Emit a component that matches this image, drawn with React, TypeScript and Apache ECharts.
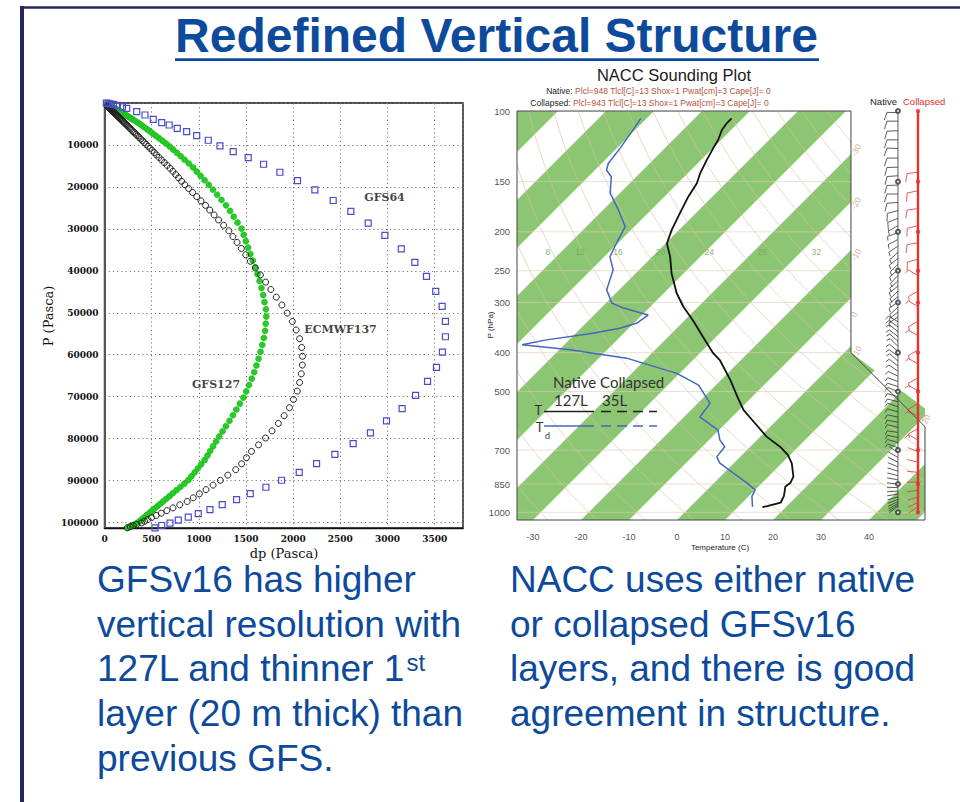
import { useEffect, useRef } from "react";
import * as echarts from "echarts";

// ---------------- Layer thickness dp (Pa) at each model level pressure P (Pa) ----------------
const gfs127Dp = [
  250, 272, 296, 322, 350, 372, 390, 411, 433, 455,
  480, 505, 532, 560, 590, 621, 654, 689, 725, 763,
  804, 847, 889, 921, 955, 989, 1024, 1061, 1091, 1120,
  1151, 1182, 1215, 1251, 1287, 1325, 1362, 1398, 1435, 1472,
  1502, 1531, 1561, 1587, 1610, 1633, 1654, 1672, 1689, 1702,
  1709, 1715, 1711, 1696, 1682, 1664, 1643, 1622, 1598, 1572,
  1546, 1522, 1498, 1475, 1452, 1410, 1370, 1331, 1288, 1240,
  1194, 1150, 1106, 1061, 1018, 977, 938, 894, 849, 807,
  767, 728, 692, 654, 615, 579, 545, 512, 482, 453,
  426, 401, 377, 351, 326, 303, 282, 262, 244, 226,
  211, 196, 182, 169, 156, 143, 131, 120, 110, 101,
  93, 85, 78, 72, 66, 61, 55, 51, 47, 43,
  39, 36, 33, 30, 28, 26, 24,
];
const gfs127P = [
  101200, 100950, 100678, 100382, 100060, 99710, 99338, 98948, 98537, 98104,
  97649, 97169, 96664, 96132, 95572, 94982, 94361, 93707, 93018, 92293,
  91530, 90726, 89879, 88990, 88069, 87114, 86125, 85101, 84040, 82949,
  81829, 80678, 79496, 78281, 77030, 75743, 74418, 73056, 71658, 70223,
  68751, 67249, 65718, 64157, 62570, 60960, 59327, 57673, 56001, 54312,
  52610, 50901, 49186, 47475, 45779, 44097, 42433, 40790, 39168, 37570,
  35998, 34452, 32930, 31432, 29957, 28505, 27095, 25725, 24394, 23106,
  21866, 20672, 19522, 18416, 17355, 16337, 15360, 14422, 13528, 12679,
  11872, 11105, 10377, 9685, 9031, 8416, 7837, 7292, 6780, 6298,
  5845, 5419, 5018, 4641, 4290, 3964, 3661, 3379, 3117, 2873,
  2647, 2436, 2240, 2058, 1889, 1733, 1590, 1459, 1339, 1229,
  1128, 1035, 950, 872, 800, 734, 673, 618, 567, 520,
  477, 438, 402, 369, 339, 311, 285,
];
const ecmwf137Dp = [
  240, 273, 306, 342, 393, 425, 459, 499, 548, 602,
  661, 726, 798, 876, 941, 1006, 1076, 1151, 1228, 1307,
  1391, 1453, 1505, 1558, 1633, 1707, 1776, 1843, 1904, 1960,
  2003, 2043, 2068, 2086, 2097, 2099, 2090, 2068, 2031, 1991,
  1936, 1880, 1821, 1763, 1708, 1653, 1599, 1546, 1497, 1450,
  1405, 1361, 1318, 1263, 1209, 1162, 1116, 1071, 1023, 978,
  934, 892, 852, 817, 785, 755, 725, 695, 664, 634,
  605, 578, 552, 528, 505, 483, 461, 441, 421, 403,
  385, 368, 351, 336, 320, 306, 292, 279, 267, 255,
  244, 233, 222, 212, 203, 194, 185, 177, 169, 161,
  154, 147, 141, 135, 129, 123, 118, 112, 107, 102,
  98, 94, 89, 85, 81, 77, 74, 70, 67, 64,
  61, 58, 56, 53, 51, 48, 46, 44, 42, 40,
  38, 36, 35, 33, 32, 30, 29,
];
const ecmwf137P = [
  101250, 101010, 100737, 100431, 100089, 99696, 99271, 98812, 98313, 97765,
  97163, 96502, 95776, 94978, 94102, 93161, 92155, 91079, 89928, 88700,
  87393, 86002, 84549, 83044, 81486, 79853, 78146, 76370, 74527, 72623,
  70663, 68660, 66617, 64549, 62463, 60366, 58267, 56177, 54109, 52078,
  50087, 48151, 46271, 44450, 42687, 40979, 39326, 37727, 36181, 34684,
  33234, 31829, 30468, 29150, 27887, 26678, 25516, 24400, 23329, 22306,
  21328, 20394, 19502, 18650, 17833, 17048, 16293, 15568, 14873, 14209,
  13575, 12970, 12392, 11840, 11312, 10807, 10324, 9863, 9422, 9001,
  8598, 8213, 7845, 7494, 7158, 6838, 6532, 6240, 5961, 5694,
  5439, 5195, 4962, 4740, 4528, 4325, 4131, 3946, 3769, 3600,
  3439, 3285, 3138, 2997, 2862, 2733, 2610, 2492, 2380, 2273,
  2171, 2073, 1979, 1890, 1805, 1724, 1647, 1573, 1503, 1436,
  1372, 1311, 1253, 1197, 1144, 1093, 1045, 999, 955, 913,
  873, 835, 799, 764, 731, 699, 669,
];
const gfs64Dp = [
  535, 606, 694, 782, 888, 994, 1118, 1248, 1400, 1545,
  1711, 1877, 2064, 2248, 2442, 2636, 2819, 2989, 3155, 3297,
  3424, 3519, 3582, 3614, 3614, 3579, 3511, 3413, 3290, 3146,
  2972, 2795, 2611, 2424, 2230, 2046, 1859, 1686, 1523, 1364,
  1224, 1100, 977, 871, 771, 686, 606, 517, 429, 341,
  235, 190, 136, 95, 62, 38, 20,
];
const gfs64P = [
  101250, 100710, 100140, 99430, 98710, 97860, 96900, 95710, 94520, 93100,
  91590, 89920, 88020, 85950, 83730, 81190, 78650, 75790, 72860, 69690,
  66350, 63020, 59370, 55710, 52060, 48490, 44920, 41330, 38000, 34760,
  31570, 28650, 25850, 23240, 20710, 18480, 16500, 14600, 13000, 11600,
  10240, 8880, 7780, 6830, 6030, 5240, 4690, 3880, 2860, 2060,
  1260, 900, 560, 330, 190, 100, 45,
];
const profileNames = ["GFS64", "ECMWF137", "GFS127"];
const profileNameDp = [2968, 2502, 1182];
const profileNameP = [22635, 54086, 67191];

// ---------------- NACC sounding ----------------
const tempP = [970, 965, 946.5, 911.4, 861.9, 845.3, 814.3, 754.7, 719.8, 686.3, 647.8, 599.9, 555.5, 514.2, 467.5, 417.4, 401.4, 365.6, 332.2, 307.4, 284.5, 253.9, 230.6, 213.9, 198.1, 179.9, 163.5, 151.4, 143.0, 132.4, 123.9, 118.1, 111.5, 107.3, 104.3];
const tempC = [15.1, 15.9, 18.0, 17.3, 15.6, 15.9, 15.2, 12.1, 9.6, 6.2, 1.3, -3.9, -9.1, -13.2, -18.1, -24.4, -27.2, -32.7, -38.3, -43.1, -47.3, -52.5, -56.3, -59.7, -61.5, -63.3, -65.0, -66.0, -67.4, -68.8, -69.9, -70.6, -71.9, -72.3, -72.3];
const dewP = [969.2, 912.6, 879, 845.5, 798.8, 754.5, 726.5, 686.5, 660.8, 623.8, 578.5, 535.3, 481.9, 450.5, 412.9, 393.4, 382.4, 371.8, 358.0, 347.9, 338.1, 322.5, 309.8, 301.0, 279.0, 248.8, 230.9, 217.9, 205.7, 194.2, 176.4, 160.3, 145.8, 140.3, 135.0, 123.9, 112.6, 104.3];
const dewC = [13.0, 10.7, 10.0, 6.9, 2.0, -2.9, -4.9, -5.3, -7.7, -10.2, -16.7, -17.4, -23.6, -30.6, -44.2, -57.7, -68.8, -64.7, -56.4, -51.9, -49.4, -48.7, -55.3, -58.8, -62.6, -65.4, -68.8, -69.9, -70.9, -71.9, -76.8, -82.0, -85.2, -87.6, -88.6, -89.3, -90.3, -91.2];
const pressureTicks = [100, 150, 200, 250, 300, 400, 500, 700, 850, 1000];
const temperatureTicks = [-30, -20, -10, 0, 10, 20, 30, 40];
const greenBandStarts = [-120, -100, -80, -60, -40, -20, 0, 20, 40];
const dryAdiabatTheta = [-40, -30, -20, -10, 0, 10, 20, 30, 40, 50, 60, 70, 80, 90, 100, 110, 120, 130, 140, 150, 160];
// mixing-ratio labels (g/kg) along the 225 hPa row, placed on the plot's x scale
const mixingRatioLabels = ["8", "12", "16", "20", "24", "28", "32"];
const mixingRatioLabelX = [-26.9, -20.2, -12.3, -3.5, 6.7, 17.7, 29.0];
// isotherm labels along the wind-column edge
const edgeLabels = ["-30", "-20", "-10", "0", "10", "20"];
const edgeLabelP = [129, 175, 235, 325, 405, 600];

const nativeWindP = [101, 106, 112, 118, 124, 131, 138, 145, 153, 161, 169, 177, 185, 193, 201, 209, 217, 225, 233, 241, 249, 257, 265, 273, 281, 290, 299, 308, 317, 326, 335, 345, 355, 365, 375, 386, 397, 408, 420, 432, 445, 458, 472, 486, 500, 515, 530, 546, 562, 579, 596, 614, 632, 651, 670, 690, 710, 730, 750, 770, 790, 810, 830, 850, 868, 885, 900, 915, 928, 940, 950, 958, 965];
const nativeWindDir = [272, 270, 268, 270, 272, 270, 268, 266, 268, 270, 266, 255, 248, 240, 250, 242, 236, 228, 232, 226, 230, 224, 228, 232, 226, 230, 234, 228, 232, 236, 300, 305, 310, 308, 312, 315, 310, 306, 312, 308, 304, 296, 290, 288, 292, 286, 284, 290, 286, 282, 280, 284, 278, 282, 286, 290, 305, 300, 296, 292, 288, 284, 280, 276, 272, 266, 260, 254, 248, 244, 240, 236, 232];
const nativeWindSpd = [10, 10, 10, 10, 10, 10, 10, 10, 10, 10, 10, 10, 10, 5, 5, 5, 5, 5, 5, 5, 5, 5, 5, 5, 5, 5, 5, 5, 5, 5, 5, 5, 5, 5, 5, 5, 5, 5, 5, 5, 5, 5, 5, 5, 5, 5, 5, 5, 5, 5, 5, 5, 5, 5, 5, 5, 2, 2, 2, 2, 2, 2, 2, 2, 2, 2, 2, 2, 2, 2, 2, 2, 2];
const collapsedWindP = [100, 112, 127, 142, 158, 175, 193, 213, 234, 257, 281, 307, 334, 363, 394, 427, 462, 498, 536, 576, 618, 661, 705, 750, 795, 840, 880, 915, 945, 968];
const collapsedWindDir = [270, 270, 270, 262, 258, 262, 256, 260, 254, 300, 240, 300, 240, 300, 240, 300, 240, 300, 240, 300, 240, 300, 290, 284, 276, 268, 260, 252, 244, 236];
const collapsedWindSpd = [0, 0, 0, 10, 10, 10, 10, 10, 10, 5, 5, 5, 5, 5, 5, 5, 5, 5, 5, 5, 5, 5, 2, 2, 2, 2, 2, 2, 2, 2];

// ---------------- layout ----------------
const SK = { left: 517, top: 111, width: 408, height: 409, xMin: -33.33, xMax: 51.67, pTop: 100, pBot: 1045 };
const PX_PER_DEG = SK.width / (SK.xMax - SK.xMin);
const PX_PER_LN = SK.height / Math.log(SK.pBot / SK.pTop);
const K = PX_PER_LN / PX_PER_DEG;
const skew = (t: number, p: number) => t + K * Math.log(SK.pBot / p);
const NOTCH_X = 36.25;
const NOTCH_P = 400;
const NOTCH_P2 = NOTCH_P * Math.exp((SK.xMax - NOTCH_X) / K);
const NATIVE_STAFF_X = 46.04;
const COLLAPSED_STAFF_X = 50.21;
const MIXING_LABEL_P = 225;

const BLUE_TEXT = "#0d4a9c";
const BAND_GREEN = "#8cc673";
const SERIF = "DejaVu Serif";
const SANS = "Liberation Sans";

function measure(text: string, font: string) {
  const ctx = document.createElement("canvas").getContext("2d");
  if (!ctx) return text.length * 18;
  ctx.font = font;
  return ctx.measureText(text).width;
}

function barbRenderer(color: string, width: number) {
  return (_params: any, api: any) => {
    const spd = api.value(3) as number;
    if (!(spd > 0)) return null;
    const [x0, y0] = api.coord([api.value(0), api.value(1)]);
    const d = ((api.value(2) as number) * Math.PI) / 180;
    const sx = Math.sin(d);
    const sy = -Math.cos(d);
    const px = sy;
    const py = -sx;
    const L = 11;
    const F = 8;
    const tx = x0 + L * sx;
    const ty = y0 + L * sy;
    const style = { stroke: color, lineWidth: width, fill: null };
    const children: any[] = [{ type: "line", shape: { x1: x0, y1: y0, x2: tx, y2: ty }, style }];
    const full = Math.floor(spd / 10);
    const half = spd % 10 >= 5;
    let off = 0;
    for (let i = 0; i < full; i++) {
      const bx = tx - off * sx;
      const by = ty - off * sy;
      children.push({ type: "line", shape: { x1: bx, y1: by, x2: bx + F * px + 2.5 * sx, y2: by + F * py + 2.5 * sy }, style });
      off += 3;
    }
    if (half) {
      const bx = tx - off * sx;
      const by = ty - off * sy;
      children.push({ type: "line", shape: { x1: bx, y1: by, x2: bx + 0.5 * F * px + 1.2 * sx, y2: by + 0.5 * F * py + 1.2 * sy }, style });
    }
    return { type: "group", children };
  };
}

function buildOption() {
  const sub = "st";
  const line3 = "127L and thinner 1";
  const line3W = measure(line3, `37px "${SANS}"`);
  const bodyLeft = [
    "GFSv16 has higher",
    "vertical resolution with",
    line3,
    "layer (20 m thick) than",
    "previous GFS.",
  ];
  const bodyRight = [
    "NACC uses either native",
    "or collapsed GFSv16",
    "layers, and there is good",
    "agreement in structure.",
  ];
  const lineY = [579.5, 624.5, 668.9, 713.9, 758.2];

  const text = (x: number, y: number, t: string, extra: any = {}, styleExtra: any = {}) => ({
    type: "text",
    x,
    y,
    z: 100,
    silent: true,
    ...extra,
    style: { text: t, fill: "#111", align: "left", verticalAlign: "middle", fontFamily: SANS, fontSize: 12, ...styleExtra },
  });

  const graphic: any[] = [
    // slide frame
    { type: "line", z: 100, shape: { x1: 20, y1: 7.5, x2: 960, y2: 7.5 }, style: { stroke: "#23275a", lineWidth: 2.5 } },
    { type: "line", z: 100, shape: { x1: 22, y1: 6, x2: 22, y2: 802 }, style: { stroke: "#23275a", lineWidth: 4 } },
    // title
    text(496.5, 35.4, "Redefined Vertical Structure", {}, { align: "center", fontSize: 48, fontWeight: "bold", fill: BLUE_TEXT }),
    { type: "rect", z: 100, shape: { x: 175, y: 58.3, width: 644, height: 2.8 }, style: { fill: BLUE_TEXT } },
    // left chart axis names
    text(284, 553, "dp (Pasca)", {}, { align: "center", fontFamily: SERIF, fontSize: 13 }),
    text(48, 316, "P (Pasca)", { rotation: Math.PI / 2 }, { align: "center", fontFamily: SERIF, fontSize: 13 }),
    // sounding header
    text(674, 74.5, "NACC Sounding Plot", {}, { align: "center", fontSize: 16.5, fill: "#1a1a1a" }),
    text(658.5, 91, "{k|Native: }{v|Plcl=948 Tlcl[C]=13 Shox=1 Pwat[cm]=3 Cape[J]= 0}", {}, {
      align: "center",
      rich: { k: { fill: "#222", fontSize: 8.5, fontFamily: SANS }, v: { fill: "#b5553b", fontSize: 8.5, fontFamily: SANS } },
    }),
    text(649.5, 102.5, "{k|Collapsed: }{v|Plcl=943 Tlcl[C]=13 Shox=1 Pwat[cm]=3 Cape[J]= 0}", {}, {
      align: "center",
      rich: { k: { fill: "#222", fontSize: 8.5, fontFamily: SANS }, v: { fill: "#b5553b", fontSize: 8.5, fontFamily: SANS } },
    }),
    text(870, 101.7, "Native", {}, { fontSize: 9.5, fill: "#222" }),
    text(903, 101.7, "Collapsed", {}, { fontSize: 9.5, fill: "#e0302c" }),
    text(490, 325, "P (hPa)", { rotation: Math.PI / 2 }, { align: "center", fontSize: 8, fill: "#222" }),
    text(720, 547.3, "Temperature (C)", {}, { align: "center", fontSize: 8, fill: "#222" }),
    // in-plot key
    text(553, 381.7, "Native Collapsed", {}, { fontFamily: "Lato", fontSize: 15, fill: "#333" }),
    text(554, 400, "127L", {}, { fontFamily: "Lato", fontSize: 15, fill: "#333" }),
    text(602, 400, "35L", {}, { fontFamily: "Lato", fontSize: 15, fill: "#333" }),
    text(538.3, 410, "T", {}, { align: "center", fontFamily: "Lato", fontSize: 13, fill: "#333" }),
    text(539.5, 427, "T", {}, { align: "center", fontFamily: "Lato", fontSize: 13, fill: "#333" }),
    text(547.5, 435, "d", {}, { align: "center", fontFamily: "Lato", fontSize: 9, fill: "#333" }),
    { type: "line", z: 100, shape: { x1: 544, y1: 411.5, x2: 594, y2: 411.5 }, style: { stroke: "#222", lineWidth: 1.6 } },
    { type: "line", z: 100, shape: { x1: 601, y1: 411.5, x2: 657, y2: 411.5 }, style: { stroke: "#222", lineWidth: 1.6, lineDash: [10, 6] } },
    { type: "line", z: 100, shape: { x1: 544, y1: 426, x2: 594, y2: 426 }, style: { stroke: "#4566c0", lineWidth: 1.6 } },
    { type: "line", z: 100, shape: { x1: 601, y1: 426, x2: 657, y2: 426 }, style: { stroke: "#4566c0", lineWidth: 1.6, lineDash: [10, 6] } },
  ];
  bodyLeft.forEach((t, i) => graphic.push(text(97, lineY[i], t, {}, { fontSize: 37, fill: BLUE_TEXT })));
  graphic.push(text(97 + line3W + 1, 662.4, sub, {}, { fontSize: 24, fill: BLUE_TEXT }));
  bodyRight.forEach((t, i) => graphic.push(text(510, lineY[i], t, {}, { fontSize: 37, fill: BLUE_TEXT })));

  const tickLabel = { fontFamily: SERIF, fontWeight: "bold", fontSize: 9, color: "#111", formatter: (v: number) => String(v) };
  const dotted = { show: true, lineStyle: { type: [1.2, 3], color: "#777", width: 1 } };
  const sk = { xAxisIndex: 1, yAxisIndex: 1 };

  return {
    animation: false,
    backgroundColor: "#ffffff",
    grid: [
      { left: 104.5, top: 103, width: 358.5, height: 425, show: true, borderColor: "#111", borderWidth: 1.4, backgroundColor: "transparent" },
      { left: SK.left, top: SK.top, width: SK.width, height: SK.height, show: false },
    ],
    xAxis: [
      {
        gridIndex: 0, type: "value", min: 0, max: 3800, interval: 500,
        axisLine: { show: true, onZero: false, lineStyle: { color: "#111", width: 1.4 } },
        axisTick: { show: false },
        axisLabel: { ...tickLabel, margin: 6, showMaxLabel: false },
        splitLine: dotted,
      },
      { gridIndex: 1, type: "value", min: SK.xMin, max: SK.xMax, show: false },
    ],
    yAxis: [
      {
        gridIndex: 0, type: "value", inverse: true, min: 0, max: 101300, interval: 10000,
        axisLine: { show: true, onZero: false, lineStyle: { color: "#555", width: 2 } },
        axisTick: { show: false },
        axisLabel: { ...tickLabel, margin: 6, showMinLabel: false, showMaxLabel: false },
        splitLine: dotted,
      },
      { gridIndex: 1, type: "log", logBase: 10, inverse: true, min: SK.pTop, max: SK.pBot, show: false },
    ],
    graphic,
    series: [
      {
        name: "GFS127", type: "scatter", z: 2, symbol: "circle", symbolSize: 6,
        itemStyle: { color: "#22cf22", borderColor: "#16a016", borderWidth: 0.5, opacity: 1 },
        data: gfs127Dp.map((v, i) => [v, gfs127P[i]]),
      },
      {
        name: "ECMWF137", type: "scatter", z: 3, symbol: "circle", symbolSize: 6,
        itemStyle: { color: "rgba(0,0,0,0)", borderColor: "#222", borderWidth: 1, opacity: 1 },
        data: ecmwf137Dp.map((v, i) => [v, ecmwf137P[i]]),
      },
      {
        name: "GFS64", type: "scatter", z: 4, symbol: "rect", symbolSize: 6,
        itemStyle: { color: "rgba(0,0,0,0)", borderColor: "#4b4bcf", borderWidth: 1.2, opacity: 1 },
        data: gfs64Dp.map((v, i) => [v, gfs64P[i]]),
      },
      {
        name: "profile names", type: "scatter", z: 5, symbolSize: 0, silent: true,
        label: { show: true, position: "inside", formatter: "{b}", fontFamily: SERIF, fontWeight: "bold", fontSize: 11, color: "#111" },
        data: profileNames.map((n, i) => ({ name: n, value: [profileNameDp[i], profileNameP[i]] })),
      },
      // skew-T background: alternating isotherm bands
      {
        type: "custom", ...sk, z: 1, clip: true, silent: true,
        data: greenBandStarts.map((t) => [t, SK.pBot]),
        renderItem: (_p: any, api: any) => {
          const a = api.value(0) as number;
          const b = a + 10;
          const pts = [
            [skew(a, SK.pBot), SK.pBot], [skew(b, SK.pBot), SK.pBot],
            [skew(b, SK.pTop), SK.pTop], [skew(a, SK.pTop), SK.pTop],
          ].map((d) => api.coord(d));
          return { type: "polygon", shape: { points: pts }, style: { fill: BAND_GREEN } };
        },
      },
      // dry adiabats
      {
        type: "custom", ...sk, z: 2, clip: true, silent: true,
        data: dryAdiabatTheta.map((t) => [t, 500]),
        renderItem: (_p: any, api: any) => {
          const theta = (api.value(0) as number) + 273.15;
          const pts: number[][] = [];
          for (let p = SK.pTop; p <= SK.pBot + 10; p += 15) {
            const t = theta * Math.pow(p / 1000, 0.2857) - 273.15;
            pts.push(api.coord([skew(t, p), p]));
          }
          return { type: "polyline", shape: { points: pts }, style: { stroke: "#d9bea3", lineWidth: 0.6, fill: null } };
        },
      },
      // isobars
      {
        type: "custom", ...sk, z: 2, clip: true, silent: true,
        data: pressureTicks.map((p) => [SK.xMin, p]),
        renderItem: (_p: any, api: any) => {
          const p = api.value(1) as number;
          const a = api.coord([SK.xMin, p]);
          const b = api.coord([SK.xMax, p]);
          return { type: "line", shape: { x1: a[0], y1: a[1], x2: b[0], y2: b[1] }, style: { stroke: "#e2cbb6", lineWidth: 0.6 } };
        },
      },
      // mixing-ratio labels
      {
        type: "scatter", ...sk, z: 2, symbolSize: 0, silent: true,
        label: { show: true, position: "inside", formatter: "{b}", fontFamily: SANS, fontSize: 8.5, color: "#66a852" },
        data: mixingRatioLabels.map((n, i) => ({ name: n, value: [mixingRatioLabelX[i], MIXING_LABEL_P] })),
      },
      // white notch for the wind column
      {
        type: "custom", ...sk, z: 3, clip: true, silent: true,
        data: [[SK.xMax, SK.pTop]],
        renderItem: (_p: any, api: any) => {
          const pts = [[NOTCH_X, SK.pTop], [SK.xMax + 5, SK.pTop], [SK.xMax + 5, NOTCH_P2], [NOTCH_X, NOTCH_P]].map((d) => api.coord(d));
          return { type: "polygon", shape: { points: pts }, style: { fill: "#ffffff" } };
        },
      },
      // isotherm labels on the notch edge
      {
        type: "scatter", ...sk, z: 4, symbolSize: 0, silent: true, clip: false,
        label: { show: true, position: "right", distance: 2, rotate: 60, formatter: "{b}", fontFamily: SANS, fontSize: 8.5, color: "#c09a78" },
        data: edgeLabels.map((n, i) => {
          const p = edgeLabelP[i];
          const x = p <= NOTCH_P ? NOTCH_X : NOTCH_X + K * Math.log(p / NOTCH_P);
          return { name: n, value: [x, p] };
        }),
      },
      // plot outline
      {
        type: "custom", ...sk, z: 4, clip: false, silent: true,
        data: [[SK.xMin, SK.pBot]],
        renderItem: (_p: any, api: any) => {
          const pts = [
            [SK.xMin, SK.pTop], [NOTCH_X, SK.pTop], [NOTCH_X, NOTCH_P], [SK.xMax, NOTCH_P2],
            [SK.xMax, SK.pBot], [SK.xMin, SK.pBot], [SK.xMin, SK.pTop],
          ].map((d) => api.coord(d));
          return { type: "polyline", shape: { points: pts }, style: { stroke: "#444", lineWidth: 1, fill: null } };
        },
      },
      {
        name: "T", type: "line", ...sk, z: 5, showSymbol: false, symbol: "none",
        lineStyle: { color: "#111", width: 1.8 },
        data: tempC.map((t, i) => [skew(t, tempP[i]), tempP[i]]),
      },
      {
        name: "Td", type: "line", ...sk, z: 5, showSymbol: false, symbol: "none",
        lineStyle: { color: "#4566c0", width: 1.5 },
        data: dewC.map((t, i) => [skew(t, dewP[i]), dewP[i]]),
      },
      {
        type: "line", ...sk, z: 6, showSymbol: false, symbol: "none", silent: true,
        lineStyle: { color: "#333", width: 0.8 },
        data: [[NATIVE_STAFF_X, SK.pTop], [NATIVE_STAFF_X, 975]],
      },
      {
        type: "line", ...sk, z: 6, showSymbol: false, symbol: "none", silent: true,
        lineStyle: { color: "#e8312f", width: 2.4 },
        data: [[COLLAPSED_STAFF_X, SK.pTop], [COLLAPSED_STAFF_X, 1004]],
      },
      {
        type: "scatter", ...sk, z: 7, symbol: "emptyCircle", symbolSize: 4, clip: false, silent: true,
        itemStyle: { color: "#333", borderColor: "#333", borderWidth: 0.8 },
        data: pressureTicks.map((p) => [NATIVE_STAFF_X, p]),
      },
      {
        type: "scatter", ...sk, z: 7, symbol: "circle", symbolSize: 4.5, clip: false, silent: true,
        itemStyle: { color: "#e8312f" },
        data: pressureTicks.map((p) => [COLLAPSED_STAFF_X, p]),
      },
      {
        type: "custom", ...sk, z: 7, clip: false, silent: true,
        data: nativeWindP.map((p, i) => [NATIVE_STAFF_X, p, nativeWindDir[i], nativeWindSpd[i]]),
        renderItem: barbRenderer("#333", 0.8),
      },
      {
        type: "custom", ...sk, z: 7, clip: false, silent: true,
        data: collapsedWindP.map((p, i) => [COLLAPSED_STAFF_X, p, collapsedWindDir[i], collapsedWindSpd[i]]),
        renderItem: barbRenderer("#e8312f", 0.8),
      },
      {
        type: "scatter", ...sk, z: 8, symbolSize: 0, clip: false, silent: true,
        label: { show: true, position: "left", distance: 7, formatter: (p: any) => String(p.value[1]), fontFamily: SANS, fontSize: 9.5, color: "#222" },
        data: pressureTicks.map((p) => [SK.xMin, p]),
      },
      {
        type: "scatter", ...sk, z: 8, symbolSize: 0, clip: false, silent: true,
        label: { show: true, position: "bottom", distance: 12, formatter: (p: any) => String(p.value[0]), fontFamily: SANS, fontSize: 9, color: "#222" },
        data: temperatureTicks.map((t) => [t, SK.pBot]),
      },
    ],
  };
}

export default function App() {
  const ref = useRef<HTMLDivElement>(null);
  useEffect(() => {
    if (!ref.current) return;
    const chart = echarts.init(ref.current, null, { renderer: "svg" });
    chart.setOption(buildOption() as any);
    return () => chart.dispose();
  }, []);
  return <div ref={ref} style={{ position: "absolute", left: 0, top: 0, width: 960, height: 802 }} />;
}
